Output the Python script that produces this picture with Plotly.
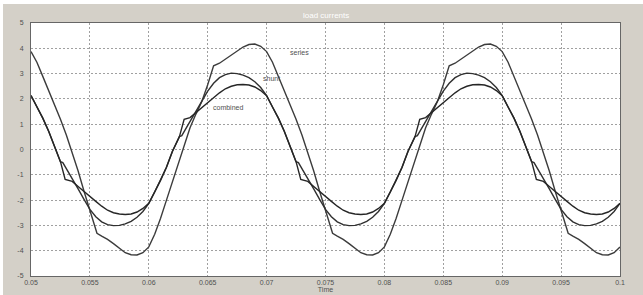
import plotly.graph_objects as go

# ---------------- data ----------------
series_time = [
    0.0500, 0.0505, 0.0510, 0.0515, 0.0520, 0.0525, 0.0530, 0.0535, 0.0540, 0.0545, 0.0550, 0.0556,
    0.0560, 0.0565, 0.0570, 0.0575, 0.0580, 0.0585, 0.0590, 0.0595, 0.0600, 0.0605, 0.0610, 0.0615,
    0.0620, 0.0625, 0.0630, 0.0635, 0.0640, 0.0645, 0.0650, 0.0655, 0.0660, 0.0665, 0.0670, 0.0675,
    0.0680, 0.0685, 0.0690, 0.0695,
    0.0700, 0.0705, 0.0710, 0.0715, 0.0720, 0.0725, 0.0730, 0.0735, 0.0740, 0.0745, 0.0750, 0.0756,
    0.0760, 0.0765, 0.0770, 0.0775, 0.0780, 0.0785, 0.0790, 0.0795, 0.0800, 0.0805, 0.0810, 0.0815,
    0.0820, 0.0825, 0.0830, 0.0835, 0.0840, 0.0845, 0.0850, 0.0855, 0.0860, 0.0865, 0.0870, 0.0875,
    0.0880, 0.0885, 0.0890, 0.0895,
    0.0900, 0.0905, 0.0910, 0.0915, 0.0920, 0.0925, 0.0930, 0.0935, 0.0940, 0.0945, 0.0950, 0.0956,
    0.0960, 0.0965, 0.0970, 0.0975, 0.0980, 0.0985, 0.0990, 0.0995, 0.1000,
]
series_current = [
    3.87, 3.45, 2.89, 2.33, 1.78, 1.20, 0.57, -0.13, -0.85, -1.65, -2.45, -3.31,
    -3.42, -3.55, -3.72, -3.90, -4.08, -4.16, -4.17, -4.08, -3.85, -3.35, -2.72, -2.00,
    -1.29, -0.57, 0.14, 0.86, 1.40, 1.90, 2.56, 3.31, 3.41, 3.57, 3.73, 3.90,
    4.05, 4.15, 4.17, 4.08,
    3.87, 3.45, 2.89, 2.33, 1.78, 1.20, 0.57, -0.13, -0.85, -1.65, -2.45, -3.31,
    -3.42, -3.55, -3.72, -3.90, -4.08, -4.16, -4.17, -4.08, -3.85, -3.35, -2.72, -2.00,
    -1.29, -0.57, 0.14, 0.86, 1.40, 1.90, 2.56, 3.31, 3.41, 3.57, 3.73, 3.90,
    4.05, 4.15, 4.17, 4.08,
    3.87, 3.45, 2.89, 2.33, 1.78, 1.20, 0.57, -0.13, -0.85, -1.65, -2.45, -3.31,
    -3.42, -3.55, -3.72, -3.90, -4.08, -4.16, -4.17, -4.08, -3.85,
]

shunt_time = [
    0.0500, 0.0505, 0.0510, 0.0515, 0.0520, 0.0525, 0.0527, 0.0530, 0.0535, 0.0540, 0.0545, 0.0550,
    0.0555, 0.0560, 0.0565, 0.0570, 0.0575, 0.0580, 0.0585, 0.0590, 0.0595, 0.0600, 0.0605, 0.0610,
    0.0615, 0.0620, 0.0626, 0.0628, 0.0630, 0.0635, 0.0640, 0.0645, 0.0650, 0.0655, 0.0660, 0.0665,
    0.0670, 0.0675, 0.0680, 0.0685, 0.0690, 0.0695,
    0.0700, 0.0705, 0.0710, 0.0715, 0.0720, 0.0725, 0.0727, 0.0730, 0.0735, 0.0740, 0.0745, 0.0750,
    0.0755, 0.0760, 0.0765, 0.0770, 0.0775, 0.0780, 0.0785, 0.0790, 0.0795, 0.0800, 0.0805, 0.0810,
    0.0815, 0.0820, 0.0826, 0.0828, 0.0830, 0.0835, 0.0840, 0.0845, 0.0850, 0.0855, 0.0860, 0.0865,
    0.0870, 0.0875, 0.0880, 0.0885, 0.0890, 0.0895,
    0.0900, 0.0905, 0.0910, 0.0915, 0.0920, 0.0925, 0.0927, 0.0930, 0.0935, 0.0940, 0.0945, 0.0950,
    0.0955, 0.0960, 0.0965, 0.0970, 0.0975, 0.0980, 0.0985, 0.0990, 0.0995, 0.1000,
]
shunt_current = [
    2.13, 1.68, 1.24, 0.72, 0.10, -0.48, -0.52, -0.75, -1.16, -1.56, -1.97, -2.37,
    -2.66, -2.86, -2.97, -3.01, -3.00, -2.94, -2.84, -2.68, -2.45, -2.13, -1.68, -1.22,
    -0.70, -0.08, 0.51, 0.55, 0.71, 1.11, 1.51, 1.91, 2.31, 2.62, 2.84, 2.96,
    3.02, 3.00, 2.94, 2.84, 2.68, 2.45,
    2.13, 1.68, 1.24, 0.72, 0.10, -0.48, -0.52, -0.75, -1.16, -1.56, -1.97, -2.37,
    -2.66, -2.86, -2.97, -3.01, -3.00, -2.94, -2.84, -2.68, -2.45, -2.13, -1.68, -1.22,
    -0.70, -0.08, 0.51, 0.55, 0.71, 1.11, 1.51, 1.91, 2.31, 2.62, 2.84, 2.96,
    3.02, 3.00, 2.94, 2.84, 2.68, 2.45,
    2.13, 1.68, 1.24, 0.72, 0.10, -0.48, -0.52, -0.75, -1.16, -1.56, -1.97, -2.37,
    -2.66, -2.86, -2.97, -3.01, -3.00, -2.94, -2.84, -2.68, -2.45, -2.13,
]

combined_time = [
    0.0500, 0.0505, 0.0510, 0.0515, 0.0520, 0.0525, 0.0529, 0.0535, 0.0540, 0.0545, 0.0550, 0.0555,
    0.0560, 0.0565, 0.0570, 0.0575, 0.0580, 0.0585, 0.0590, 0.0595, 0.0600, 0.0605, 0.0610, 0.0615,
    0.0620, 0.0626, 0.0630, 0.0635, 0.0640, 0.0645, 0.0650, 0.0655, 0.0660, 0.0665, 0.0670, 0.0675,
    0.0680, 0.0685, 0.0690, 0.0695,
    0.0700, 0.0705, 0.0710, 0.0715, 0.0720, 0.0725, 0.0729, 0.0735, 0.0740, 0.0745, 0.0750, 0.0755,
    0.0760, 0.0765, 0.0770, 0.0775, 0.0780, 0.0785, 0.0790, 0.0795, 0.0800, 0.0805, 0.0810, 0.0815,
    0.0820, 0.0826, 0.0830, 0.0835, 0.0840, 0.0845, 0.0850, 0.0855, 0.0860, 0.0865, 0.0870, 0.0875,
    0.0880, 0.0885, 0.0890, 0.0895,
    0.0900, 0.0905, 0.0910, 0.0915, 0.0920, 0.0925, 0.0929, 0.0935, 0.0940, 0.0945, 0.0950, 0.0955,
    0.0960, 0.0965, 0.0970, 0.0975, 0.0980, 0.0985, 0.0990, 0.0995, 0.1000,
]
combined_current = [
    2.13, 1.68, 1.24, 0.72, 0.10, -0.48, -1.18, -1.26, -1.46, -1.67, -1.86, -2.05,
    -2.24, -2.40, -2.50, -2.55, -2.57, -2.55, -2.47, -2.33, -2.13, -1.68, -1.22, -0.70,
    -0.08, 0.51, 1.19, 1.26, 1.46, 1.67, 1.86, 2.05, 2.24, 2.40, 2.50, 2.56,
    2.57, 2.55, 2.47, 2.33,
    2.13, 1.68, 1.24, 0.72, 0.10, -0.48, -1.18, -1.26, -1.46, -1.67, -1.86, -2.05,
    -2.24, -2.40, -2.50, -2.55, -2.57, -2.55, -2.47, -2.33, -2.13, -1.68, -1.22, -0.70,
    -0.08, 0.51, 1.19, 1.26, 1.46, 1.67, 1.86, 2.05, 2.24, 2.40, 2.50, 2.56,
    2.57, 2.55, 2.47, 2.33,
    2.13, 1.68, 1.24, 0.72, 0.10, -0.48, -1.18, -1.26, -1.46, -1.67, -1.86, -2.05,
    -2.24, -2.40, -2.50, -2.55, -2.57, -2.55, -2.47, -2.33, -2.13,
]

x_ticks = [0.05, 0.055, 0.06, 0.065, 0.07, 0.075, 0.08, 0.085, 0.09, 0.095, 0.1]
x_tick_labels = ["0.05", "0.055", "0.06", "0.065", "0.07", "0.075", "0.08", "0.085", "0.09", "0.095", "0.1"]
y_ticks = [-5, -4, -3, -2, -1, 0, 1, 2, 3, 4, 5]
y_tick_labels = ["-5", "-4", "-3", "-2", "-1", "0", "1", "2", "3", "4", "5"]

chart_title = "load currents"
x_title = "Time"
curve_labels = [("series", 0.0728, 3.85), ("shunt", 0.0704, 2.79), ("combined", 0.0667, 1.68)]

# ---------------- figure ----------------
FONT = "Liberation Sans, Arial, sans-serif"
TXT = "#505050"

fig = go.Figure()
for name, t, v, c in [("series", series_time, series_current, "#3c3c3c"),
                      ("shunt", shunt_time, shunt_current, "#303030"),
                      ("combined", combined_time, combined_current, "#262626")]:
    fig.add_trace(go.Scatter(x=t, y=v, mode="lines", name=name,
                             line=dict(color=c, width=1.4), showlegend=False,
                             hoverinfo="skip"))

for text, tx, ty in curve_labels:
    fig.add_annotation(x=tx, y=ty, xref="x", yref="y", text=text, showarrow=False,
                       font=dict(family=FONT, size=7, color=TXT))

fig.add_annotation(x=0.5, y=1, xref="paper", yref="paper", yanchor="bottom", yshift=1,
                   text=chart_title, showarrow=False,
                   font=dict(family=FONT, size=8, color="#ffffff"))

grid = dict(showgrid=True, gridcolor="#a0a0a0", griddash="2px,2px", gridwidth=1)

fig.update_layout(
    width=640, height=291,
    margin=dict(l=28, r=23, t=19, b=19, autoexpand=False),
    paper_bgcolor="#d4d0c8",
    plot_bgcolor="#ffffff",
    font=dict(family=FONT, size=7, color=TXT),
    xaxis=dict(
        range=[0.05, 0.1], tickmode="array", tickvals=x_ticks, ticktext=x_tick_labels,
        zeroline=False, showline=True, linecolor="#666666", linewidth=1, mirror=True,
        ticks="", ticklabelstandoff=0, automargin=False,
        tickfont=dict(family=FONT, size=7, color=TXT),
        title=dict(text=x_title, standoff=0, font=dict(family=FONT, size=7, color=TXT)),
        **grid,
    ),
    yaxis=dict(
        range=[-5, 5], tickmode="array", tickvals=y_ticks, ticktext=y_tick_labels,
        zeroline=False, showline=True, linecolor="#666666", linewidth=1, mirror=True,
        ticks="", ticklabelstandoff=5, automargin=False,
        tickfont=dict(family=FONT, size=7, color=TXT),
        **grid,
    ),
)

fig.write_html("out.html",
               post_script="document.body.style.margin='4px 0 0 3px';"
                           "document.body.style.overflow='hidden';")
